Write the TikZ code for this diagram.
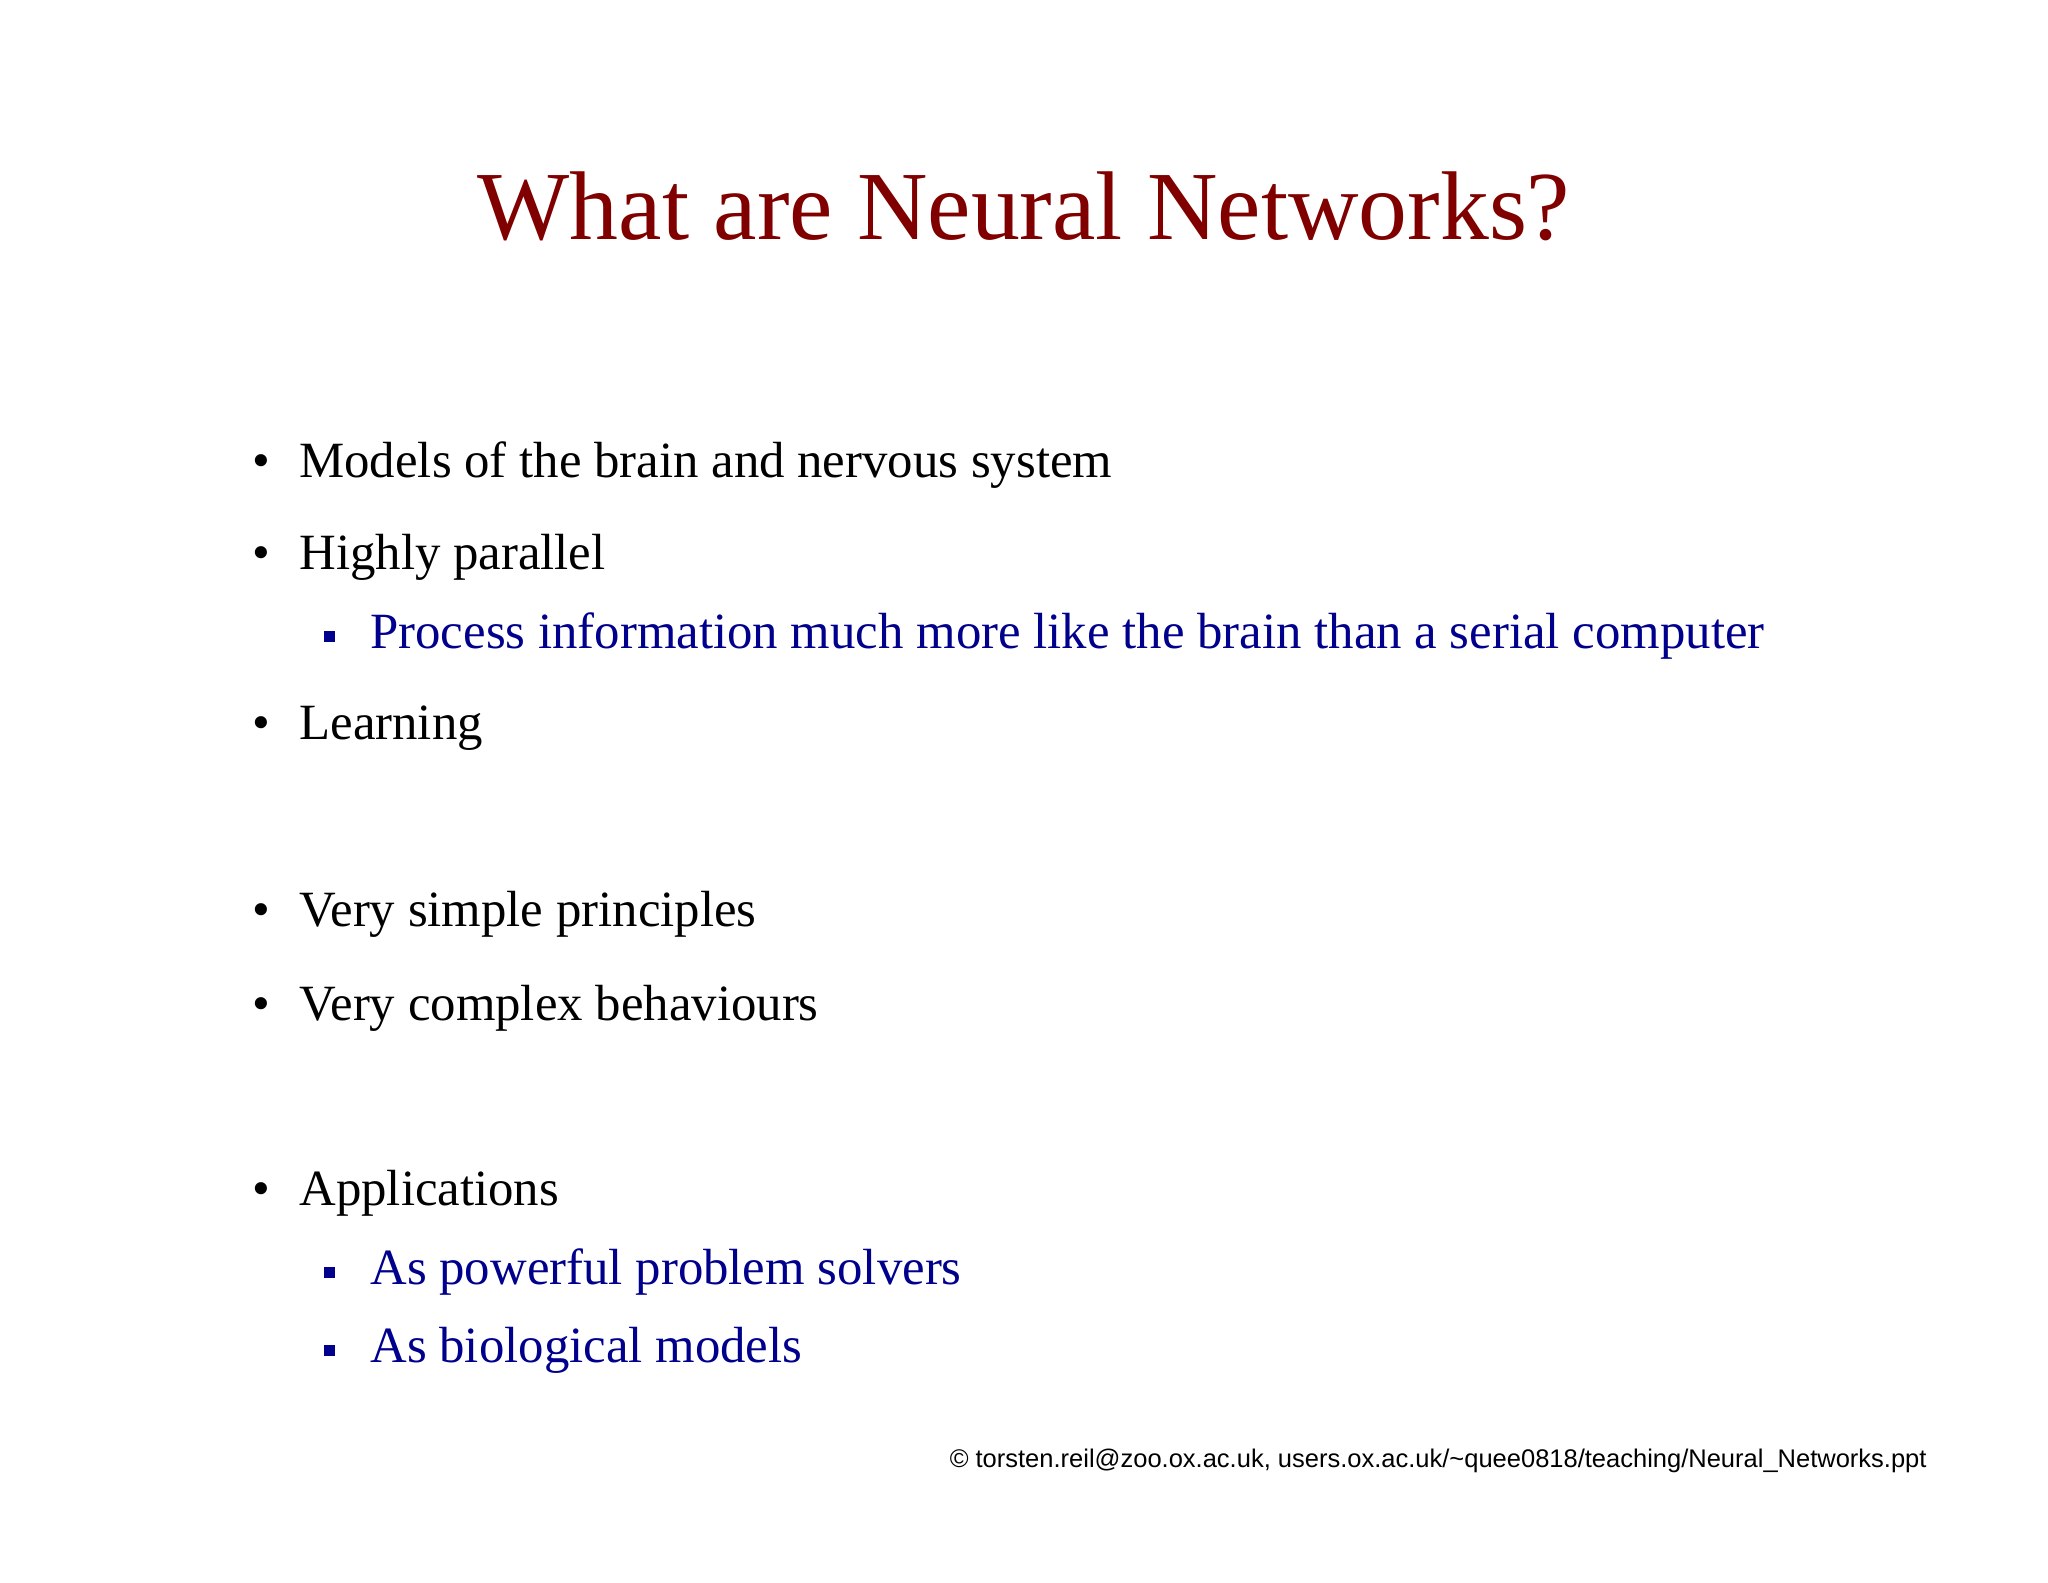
\documentclass[tikz,border=0pt]{standalone}
\usepackage{fontspec}
\setmainfont{Liberation Serif}
\newfontfamily\footfont{Liberation Sans}
\definecolor{titlered}{RGB}{128,0,0}
\definecolor{subblue}{RGB}{0,0,140}
\begin{document}
\begin{tikzpicture}[x=0.5bp,y=-0.5bp,
  txt/.style={anchor=base west,inner sep=0pt,font=\fontsize{25.5}{30}\selectfont},
  subtxt/.style={txt,text=subblue},
  bul/.style={anchor=base,inner sep=0pt,font=\fontsize{25.5}{30}\selectfont},
  sq/.style={fill=subblue}]
\useasboundingbox (0,0) rectangle (2048,1582);
\node[anchor=base,inner sep=0pt,text=titlered,font=\fontsize{49}{58}\selectfont] (title) at (1024,239) {What are Neural Networks?};
\foreach \y/\t [count=\i] in {477/Models of the brain and nervous system,569/Highly parallel,739/Learning,926/Very simple principles,1020/Very complex behaviours,1205/Applications}{
  \node[bul] (b\i) at (261,\y) {\textbullet};
  \node[txt] (t\i) at (299,\y) {\t};
}
\foreach \y/\t [count=\i] in {648/Process information much more like the brain than a serial computer,1284/As powerful problem solvers,1362/As biological models}{
  \fill[sq] (324,\y-6) rectangle ++(11,-11);
  \node[subtxt] (s\i) at (370,\y) {\t};
}
\node[anchor=base east,inner sep=0pt,font=\footfont\fontsize{12.8}{15}\selectfont] (foot) at (1927,1467) {© torsten.reil@zoo.ox.ac.uk, users.ox.ac.uk/\char`~quee0818/teaching/Neural\_Networks.ppt};
\end{tikzpicture}
\end{document}
